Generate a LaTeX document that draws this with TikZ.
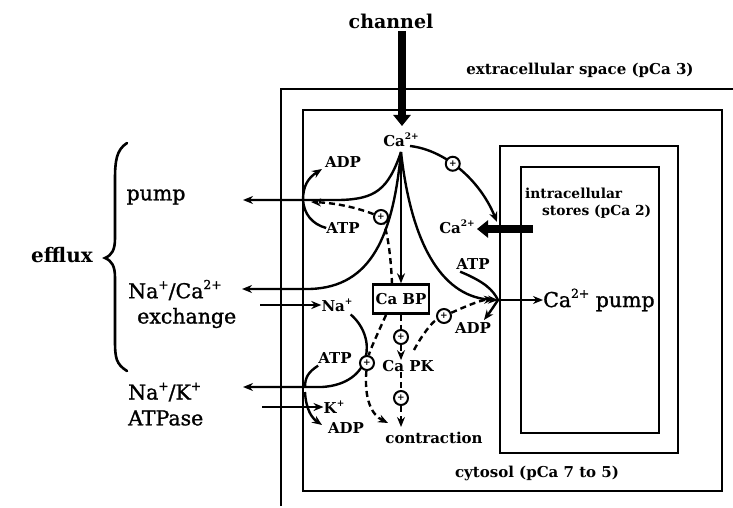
\documentclass[tikz,border=0pt]{standalone}
\usepackage{fontspec}
\usepackage{graphicx}
\setmainfont{DejaVu Serif}
\newfontfamily\medserif[FakeBold=1.2]{DejaVu Serif}
\usetikzlibrary{arrows.meta}
\newcommand{\upx}[1]{\raisebox{0.45em}{\scalebox{0.6}{#1}}}
\begin{document}
\begin{tikzpicture}[x=1pt,y=-1pt,
  every node/.style={inner sep=0pt},
  lab/.style={font=\fontsize{15}{15}\selectfont\bfseries},
  labs/.style={font=\fontsize{13.8}{14}\selectfont\bfseries},
  head/.style={font=\fontsize{19}{20}\selectfont\bfseries},
  big/.style={font=\medserif\fontsize{20.5}{21}\selectfont},
  conn/.style={line width=2.4pt},
  tip/.style={-{Stealth[length=10pt,width=8pt]}},
  dsh/.style={line width=2.4pt, dash pattern=on 6pt off 4pt},
  mem/.style={line width=2.6pt},
  fat/.style={line width=8.5pt, -{Triangle[length=11pt,width=17pt]}},
  plus/.style={circle, draw, line width=2pt, fill=white, minimum size=14pt, inner sep=0pt, font=\fontsize{9}{9}\selectfont\bfseries}
]
\useasboundingbox (0,0) rectangle (733,508);

% membranes and compartments
\draw[mem] (281,506) -- (281,89) -- (733,89);
\draw[mem] (303,110) rectangle (722,491);
\draw[mem] (500,146) rectangle (678,453);
\draw[mem] (521,167) rectangle (659,433);

% labels
\node[head] (chan) at (391,21) {channel};
\node[lab] (extra) at (580,70) {extracellular space (pCa 3)};
\node[lab] (ca1) at (401,140) {Ca\upx{2+}};
\node[lab] (adp1) at (343,162) {ADP};
\node[lab] (atp1) at (343,228) {ATP};
\node[lab] (ca2) at (457,227) {Ca\upx{2+}};
\node[labs, anchor=west] (intra) at (525,193) {intracellular};
\node[labs, anchor=west] (stores) at (542,212) {stores (pCa 2)};
\node[lab] (atp2) at (473,264) {ATP};
\node[lab] (adp2) at (473,328) {ADP};
\node[big, anchor=west] (capump) at (543,300) {Ca\upx{2+} pump};
\node[lab, draw, line width=2.4pt, minimum width=56pt, minimum height=29pt] (cabp) at (401,299) {Ca BP};
\node[lab] (na) at (337,305) {Na\upx{+}};
\node[lab] (capk) at (408,366) {Ca PK};
\node[lab] (atp3) at (335,358) {ATP};
\node[lab] (k) at (334,407) {K\upx{+}};
\node[lab] (adp3) at (346,428) {ADP};
\node[lab] (contr) at (434,438) {contraction};
\node[lab] (cyto) at (537,473) {cytosol (pCa 7 to 5)};
\node[big] (pump) at (156,197) {pump};
\node[font=\fontsize{20}{21}\selectfont\bfseries] (efflux) at (62,255) {efflux};
\node[big, anchor=west] (naca) at (128,290) {Na\upx{+}/Ca\upx{2+}};
\node[big, anchor=west] (exch) at (137,318) {exchange};
\node[big, anchor=west] (nak) at (128,392) {Na\upx{+}/K\upx{+}};
\node[big, anchor=west] (atpase) at (128,418) {ATPase};

% brace
\draw[line width=2.6pt, line cap=round] (127,143) .. controls (116,150) and (115,162) .. (115,180) -- (115,238)
  .. controls (115,250) and (112,255) .. (105,258) .. controls (112,261) and (115,266) .. (115,278) -- (115,340)
  .. controls (115,358) and (116,364) .. (127,371);

% coordinates
\coordinate (chtop) at (402,31);
\coordinate (chbot) at (402,126);
\coordinate (sttop) at (533,229);
\coordinate (stend) at (477,229);
\coordinate (pj) at (303,200);
\coordinate (pumpout) at (243,200);
\coordinate (ncout) at (242,289);
\coordinate (ncin) at (260,305);
\coordinate (nkj) at (305,387);
\coordinate (nkout) at (243,387);
\coordinate (kin) at (262,407);
\coordinate (jn) at (498,300);
\coordinate (cas) at (401,152);

% big arrows
\draw[fat] (chtop) -- (chbot);
\draw[fat] (sttop) -- (stend);

% calcium pump efflux
\draw[conn, tip] (cas) .. controls (388,190) and (375,199) .. (340,200) -- (pumpout);
\draw[conn, tip] (pj) .. controls (303,186) and (308,178) .. (322,169);
\draw[conn] (pj) .. controls (304,214) and (312,224) .. (atp1.west);
% Na/Ca exchange
\draw[conn, tip] (cas) .. controls (393,235) and (372,287) .. (310,289) -- (ncout);
\draw[conn, tip] (ncin) -- (na.west);
% Ca -> CaBP
\draw[conn, tip] (cas) -- (cabp.north);
% Ca -> Ca pump junction
\draw[conn, tip] (cas) .. controls (412,250) and (445,298) .. (jn);
% Ca -> stores
\draw[conn, tip] (410,146) .. controls (445,150) and (480,180) .. (497,222) node[plus, pos=0.42] (c1) {+};
% Ca pump
\draw[conn, tip] (jn) -- (capump.west);
\draw[conn] (atp2.south west) ++(4,2) .. controls (485,282) and (493,290) .. (jn);
\draw[conn, tip] (jn) .. controls (494,306) and (490,312) .. (484,320);
% Na/K ATPase
\draw[conn, tip] (na.south east) ++(-2,3) .. controls (378,338) and (372,384) .. (322,387) -- (nkout);
\draw[conn] (atp3.south west) ++(0,2) .. controls (308,372) and (305,378) .. (nkj);
\draw[conn, tip] (kin) -- (k.west);
\draw[conn, tip] (305,392) .. controls (306,410) and (312,418) .. (322,425);

% modulation (dashed)
\node[plus] (c2) at (381,217) {+};
\node[plus] (c3) at (401,337) {+};
\node[plus] (c4) at (444,316) {+};
\node[plus] (c5) at (367,363) {+};
\node[plus] (c6) at (401,398) {+};
\draw[dsh] (392,284) .. controls (391,258) and (388,235) .. (c2);
\draw[dsh, tip] (c2) .. controls (355,207) and (335,203) .. (311,202);
\draw[dsh] (cabp.south) -- (c3);
\draw[dsh, tip] (c3) -- (capk.north -| c3);
\draw[dsh] (capk.south -| c6) -- (c6);
\draw[dsh, tip] (c6) -- (401,427);
\draw[dsh] (386,315) .. controls (377,335) and (370,350) .. (c5);
\draw[dsh, tip] (c5) .. controls (364,400) and (372,415) .. (388,423);
\draw[dsh] (414,350) .. controls (422,335) and (432,322) .. (c4);
\draw[dsh, tip] (c4) .. controls (462,308) and (480,300) .. (494,299);
\end{tikzpicture}
\end{document}
